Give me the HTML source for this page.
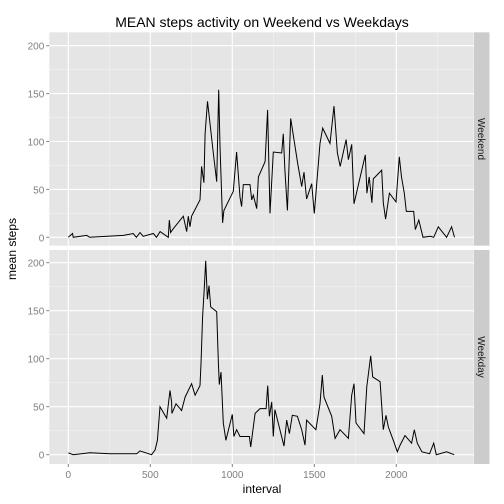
<!DOCTYPE html>
<html><head><meta charset="utf-8"><style>
body{margin:0;background:#fff;}
svg{display:block;font-family:"Liberation Sans",Arial,sans-serif;}
</style></head><body>
<svg id="chart" width="504" height="504">
<text x="262" y="27" text-anchor="middle" font-size="14" fill="#000">MEAN steps activity on Weekend vs Weekdays</text>
<text transform="translate(16,249) rotate(-90)" text-anchor="middle" font-size="12" fill="#000">mean steps</text>
<text x="262" y="493" text-anchor="middle" font-size="12" fill="#000">interval</text>
</svg>
<script>
const xTicks=[0,500,1000,1500,2000];
const yTicks=[0,50,100,150,200];
const weekendIntervals=[0,26,30,112,130,336,396,415,437,457,518,538,560,610,616,624,640,701,722,732,742,752,803,813,827,834,849,857,884,905,917,925,941,949,1006,1026,1047,1057,1067,1108,1118,1128,1149,1159,1200,1215,1230,1250,1301,1311,1321,1336,1356,1399,1423,1437,1453,1484,1500,1535,1551,1596,1620,1641,1658,1694,1708,1728,1742,1754,1811,1821,1835,1851,1860,1911,1921,1935,1958,1998,2018,2032,2049,2061,2106,2116,2137,2163,2208,2228,2256,2307,2337,2355];
const weekendSteps=[0,4,0,2,0,2,4,0,5,1,4,0,6,0,18,5,9,22,6,22,11,22,39,74,57,108,142,130,88,58,154,95,15,28,48,89,42,32,55,55,39,44,30,63,79,133,25,89,88,108,70,28,124,77,53,68,40,56,25,98,114,98,137,88,74,102,81,97,35,44,86,46,63,36,61,70,36,19,46,37,84,63,46,27,27,8,18,0,1,0,11,0,11,0];
const weekdayIntervals=[0,30,132,254,417,437,508,529,543,559,600,620,630,632,657,691,712,752,773,803,809,819,828,838,848,858,868,905,915,921,931,945,961,1000,1010,1026,1047,1104,1112,1139,1169,1206,1216,1226,1240,1250,1260,1315,1332,1348,1366,1397,1423,1443,1453,1510,1535,1549,1559,1606,1627,1657,1708,1728,1742,1754,1803,1820,1844,1856,1901,1921,1937,1951,1982,2006,2023,2053,2093,2110,2128,2156,2203,2228,2244,2307,2353];
const weekdaySteps=[2,0,2,1,1,4,0,5,15,50,38,67,55,43,53,46,60,74,62,72,95,144,170,202,162,176,154,149,95,73,86,33,15,42,19,26,19,19,8,43,48,48,72,40,55,19,47,9,36,22,41,40,26,10,36,26,53,83,60,40,17,26,17,62,74,33,22,71,103,81,76,26,41,29,15,3,10,20,12,26,12,3,1,12,0,3,0];

const svg=document.getElementById('chart');
const NS='http://www.w3.org/2000/svg';
const PX0=49.3,PX1=473.7;
function xScale(v){return 68.3+v*(82.0/500);}
function mk(tag,attrs){const e=document.createElementNS(NS,tag);for(const k in attrs)e.setAttribute(k,attrs[k]);svg.appendChild(e);return e;}
function drawPanel(top,bottom,y0px,y200px,label,ints,vals,name,showX){
  const yScale=v=>y0px+(y200px-y0px)*v/200;
  const bg=mk('rect',{x:PX0,y:top,width:PX1-PX0,height:bottom-top,fill:'#e5e5e5'});
  
  
  for(let i=0;i<xTicks.length;i++){const m=xTicks[i]+250;if(m<2400){const l=mk('line',{x1:xScale(m),x2:xScale(m),y1:top,y2:bottom,stroke:'#f2f2f2','stroke-width':0.6});}}
  for(let i=0;i<yTicks.length;i++){const m=yTicks[i]+25;if(m<215){const l=mk('line',{x1:PX0,x2:PX1,y1:yScale(m),y2:yScale(m),stroke:'#f2f2f2','stroke-width':0.6});}}
  xTicks.forEach(t=>{const l=mk('line',{x1:xScale(t),x2:xScale(t),y1:top,y2:bottom,stroke:'#fff','stroke-width':1.1});});
  yTicks.forEach(t=>{const l=mk('line',{x1:PX0,x2:PX1,y1:yScale(t),y2:yScale(t),stroke:'#fff','stroke-width':1.1});
    const tk=mk('line',{x1:PX0-3,x2:PX0,y1:yScale(t),y2:yScale(t),stroke:'#7f7f7f','stroke-width':1});
    const tx=mk('text',{x:PX0-5,y:yScale(t)+4,'text-anchor':'end','font-size':10,fill:'#7f7f7f'});tx.textContent=t;});
  if(showX){xTicks.forEach(t=>{const tk=mk('line',{x1:xScale(t),x2:xScale(t),y1:bottom,y2:bottom+3,stroke:'#7f7f7f','stroke-width':1});
    const tx=mk('text',{x:xScale(t),y:bottom+14,'text-anchor':'middle','font-size':10,fill:'#7f7f7f'});tx.textContent=t;});}
  const pts=ints.map((v,i)=>xScale(v).toFixed(1)+','+yScale(vals[i]).toFixed(1)).join(' ');
  const pl=mk('polyline',{points:pts,fill:'none',stroke:'#000','stroke-width':1});
  
  
  const st=mk('rect',{x:474,y:top,width:15.5,height:bottom-top,fill:'#cccccc'});
  
  
  const cy=(top+bottom)/2;
  const sl=mk('text',{transform:'translate(478,'+cy+') rotate(90)','text-anchor':'middle','font-size':10,fill:'#1a1a1a'});
  sl.textContent=label;
  
  
}
drawPanel(32.3,245.7,237.3,45.7,'Weekend',weekendIntervals,weekendSteps,'weekend',false);
drawPanel(250,464,454.7,262.7,'Weekday',weekdayIntervals,weekdaySteps,'weekday',true);
</script>
</body></html>
